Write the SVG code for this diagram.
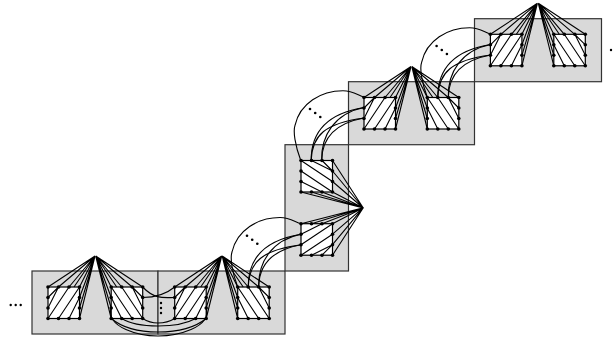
<svg xmlns="http://www.w3.org/2000/svg" width="613" height="338" viewBox="0 0 613 338">
<style>
.panel{fill:#d9d9d9;stroke:#333;stroke-width:1.2}
.sqr{fill:#fff;stroke:#000;stroke-width:1.2}
.ln{fill:none;stroke:#000;stroke-width:1.1}
.cv{fill:none;stroke:#000;stroke-width:1.1}
.dot{fill:#000}
</style>
<defs>
<g id="sq">
<rect class="sqr" width="31.5" height="31.5"/>
<path class="ln" d="M0 10.5L10.5 0M0 21L10.5 0M0 31.5L21 0M10.5 31.5L31.5 0M21 31.5L31.5 10.5"/>
</g>
<g id="sqV">
<rect class="sqr" width="31.5" height="31.5"/>
<path class="ln" d="M0 10.5L21 0M0 21L31.5 0M0 31.5L31.5 10.5M10.5 31.5L31.5 21M21 31.5L31.5 21"/>
</g>
<g id="dots" class="dot">
<circle cx="0" cy="0" r="1.8"/><circle cx="10.5" cy="0" r="1.8"/><circle cx="21" cy="0" r="1.8"/><circle cx="31.5" cy="0" r="1.8"/>
<circle cx="0" cy="10.5" r="1.8"/><circle cx="31.5" cy="10.5" r="1.8"/>
<circle cx="0" cy="21" r="1.8"/><circle cx="31.5" cy="21" r="1.8"/>
<circle cx="0" cy="31.5" r="1.8"/><circle cx="10.5" cy="31.5" r="1.8"/><circle cx="21" cy="31.5" r="1.8"/><circle cx="31.5" cy="31.5" r="1.8"/>
</g>
<path id="fan" class="ln" d="M47 -31L0 0M47 -31L10.5 0M47 -31L21 0M47 -31L31.5 0M47 -31L31.5 10.5M47 -31L31.5 21M47 -31L31.5 31.5M47 -31L26 0"/>
<path id="fanV" class="ln" d="M62.3 -16L0 0M62.3 -16L10.5 0M62.3 -16L21 0M62.3 -16L31.5 0M62.3 -16L31.5 10.5M62.3 -16L31.5 21M62.3 -16L31.5 31.5"/>
<g id="node">
<use href="#sq"/><use href="#fan"/><use href="#dots"/>
</g>
<g id="nodeV">
<use href="#sqV"/><use href="#fanV"/><use href="#dots"/>
</g>
<g id="link">
<path class="cv" d="M237.7 287C232 272 230 258 232 252C237 230 258 217.5 280 217.5C290 217.5 295 222 301 223.7"/>
<path class="cv" d="M248.2 287C248 258 265 240 301 234.2"/>
<path class="cv" d="M248.2 287C249 262 262 250 301 244.7"/>
<path class="cv" d="M258.7 287C258 262 272 240 301 234.2"/>
<path class="cv" d="M258.7 287C259 265 272 250 301 244.7"/>
<g class="dot"><circle cx="247" cy="235.7" r="1.3"/><circle cx="252.2" cy="239.7" r="1.3"/><circle cx="257.3" cy="243.7" r="1.3"/></g>
</g>
</defs>
<rect class="panel" x="32" y="271" width="126" height="63"/>
<rect class="panel" x="158" y="271" width="127" height="63"/>
<rect class="panel" x="285" y="144.7" width="63.5" height="126.3"/>
<rect class="panel" x="348.5" y="81.7" width="126" height="63"/>
<rect class="panel" x="474.5" y="18.7" width="127" height="63"/>
<g id="n1"><use href="#node" transform="translate(48 287)"/></g>
<g id="n2"><use href="#node" transform="translate(142.7 287) scale(-1 1)"/></g>
<g id="n3"><use href="#node" transform="translate(174.7 287)"/></g>
<g id="n4"><use href="#node" transform="translate(269.2 287) scale(-1 1)"/></g>
<g id="n5"><use href="#nodeV" transform="translate(301 223.7)"/></g>
<g id="n6"><use href="#nodeV" transform="translate(301 192) scale(1 -1)"/></g>
<g id="n7"><use href="#node" transform="translate(364 97.5)"/></g>
<g id="n8"><use href="#node" transform="translate(458.8 97.5) scale(-1 1)"/></g>
<g id="n9"><use href="#node" transform="translate(490.4 34.3)"/></g>
<g id="n10"><use href="#node" transform="translate(585.3 34.3) scale(-1 1)"/></g>
<g id="connectors">
<use href="#link"/>
<use href="#link" transform="translate(63 -126.7)"/>
<use href="#link" transform="translate(189.6 -189.7)"/>
<path class="cv" d="M142.7 287C155 300 165 297.5 174.7 297.5"/>
<path class="cv" d="M142.7 297.5C155 297.5 165 295 174.7 287"/>
<path class="cv" d="M111 308C106 328 140 336 158 336C176 336 212 328 206.2 308"/>
<path class="cv" d="M111.2 318.5C125 330 145 332 158 332C171 332 192 330 206.2 318.5"/>
<path class="cv" d="M121.7 318.5C132 325 148 326 158 326C168 326 184 325 195.7 318.5"/>
<path class="cv" d="M142.7 318.5C148 322 153 323 158 323C163 323 169 322 174.7 318.5"/>
<g class="dot">
<circle cx="10.7" cy="305" r="1.2"/><circle cx="15.7" cy="305" r="1.2"/><circle cx="20.7" cy="305" r="1.2"/>
<circle cx="161" cy="303" r="1.2"/><circle cx="161" cy="308" r="1.2"/><circle cx="161" cy="313" r="1.2"/>
<circle cx="611" cy="50" r="1.2"/>
</g>
</g>
</svg>
